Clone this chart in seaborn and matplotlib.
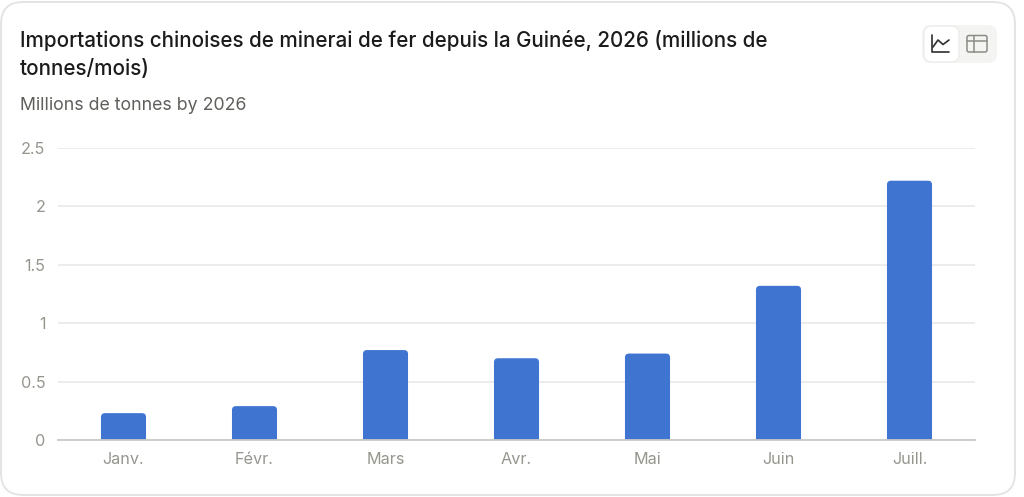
import matplotlib
matplotlib.use('Agg')
import matplotlib.pyplot as plt
from matplotlib.patches import FancyBboxPatch, PathPatch
from matplotlib.path import Path
from matplotlib.transforms import Affine2D
import pandas as pd
import seaborn as sns

months = ['Janv.', 'Févr.', 'Mars', 'Avr.', 'Mai', 'Juin', 'Juill.']
imports = [0.23, 0.29, 0.77, 0.70, 0.74, 1.32, 2.22]
yticks = [0, 0.5, 1, 1.5, 2, 2.5]
ylabels = ['0', '0.5', '1', '1.5', '2', '2.5']

W, H = 1024, 497
BLUE = '#3f75d1'

sns.set_theme(style='white')
plt.rcParams['font.family'] = ['Inter', 'DejaVu Sans']

fig = plt.figure(figsize=(W / 100, H / 100), dpi=100, facecolor='white')

# everything outside the axes is placed in pixels, y going down like the screenshot
px = Affine2D().scale(1, -1).translate(0, H)

fig.add_artist(FancyBboxPatch((1, 2), 1014, 493, boxstyle='round,pad=0,rounding_size=22',
                              fc='white', ec='#e4e4e2', lw=1.4, transform=px))

# chart type switch
fig.add_artist(FancyBboxPatch((922, 25), 75, 38, boxstyle='round,pad=0,rounding_size=9',
                              fc='#f4f4f3', ec='none', transform=px))
fig.add_artist(FancyBboxPatch((924, 26), 35, 36, boxstyle='round,pad=0,rounding_size=8',
                              fc='white', ec='#ebebe9', lw=0.8, transform=px))
fig.add_artist(plt.Line2D([932, 932, 949], [35, 51.5, 51.5], color='#2f2f2f', lw=1.2, transform=px))
fig.add_artist(plt.Line2D([933, 938, 943, 949], [47, 40, 44.5, 40], color='#2f2f2f', lw=1.2, transform=px))
fig.add_artist(FancyBboxPatch((967, 35.5), 20, 16.5, boxstyle='round,pad=0,rounding_size=2',
                              fc='none', ec='#8c8c86', lw=1.1, transform=px))
fig.add_artist(plt.Line2D([967, 987], [41, 41], color='#8c8c86', lw=1.1, transform=px))
fig.add_artist(plt.Line2D([973.5, 973.5], [35.5, 52], color='#8c8c86', lw=1.1, transform=px))

fig.text(20, 40.5, 'Importations chinoises de minerai de fer depuis la Guinée, 2026 (millions de',
         transform=px, fontsize=14.84, fontweight='medium', color='#1b1b1b', va='center', ha='left')
fig.text(20, 69, 'tonnes/mois)', transform=px, fontsize=14.84, fontweight='medium',
         color='#1b1b1b', va='center', ha='left')
fig.text(20, 105.5, 'Millions de tonnes by 2026', transform=px, fontsize=12.75,
         color='#5f5f5b', va='center', ha='left')

ax = fig.add_axes([58 / W, 1 - 440 / H, (975 - 58) / W, (440 - 148) / H])
ax.patch.set_alpha(0)
ax.set_zorder(5)

df = pd.DataFrame({'month': months, 'imports': imports})
sns.barplot(data=df, x='month', y='imports', color=BLUE, width=0.344, saturation=1, ax=ax, zorder=3)

ax.set_ylim(0, 2.5)
ax.set_yticks(yticks)
ax.set_yticklabels(ylabels)
ax.set_xlabel('')
ax.set_ylabel('')
ax.grid(axis='y', color='#ebebe9', lw=1.3)
ax.set_axisbelow(True)
sns.despine(ax=ax, left=True, top=True, right=True)
ax.spines['bottom'].set_color('#c9c9c5')
ax.spines['bottom'].set_linewidth(1.3)
ax.spines['bottom'].set_zorder(5)
ax.tick_params(axis='both', length=0, labelsize=11.7, labelcolor='#96968f')
ax.tick_params(axis='x', pad=8.5)
ax.tick_params(axis='y', pad=9)

# round the top corners of the bars, 4 px radius
rx = 4 / 131
ry = 4 / 116.8
for bar in list(ax.patches):
    x0, w, h = bar.get_x(), bar.get_width(), bar.get_height()
    x1 = x0 + w
    verts = [(x0, 0), (x0, h - ry), (x0, h), (x0 + rx, h), (x1 - rx, h), (x1, h), (x1, h - ry), (x1, 0), (x0, 0)]
    codes = [Path.MOVETO, Path.LINETO, Path.CURVE3, Path.CURVE3, Path.LINETO,
             Path.CURVE3, Path.CURVE3, Path.LINETO, Path.CLOSEPOLY]
    ax.add_patch(PathPatch(Path(verts, codes), fc=BLUE, ec='none', zorder=3))
    bar.set_visible(False)

fig.savefig('out.png', dpi=100, facecolor='white')
